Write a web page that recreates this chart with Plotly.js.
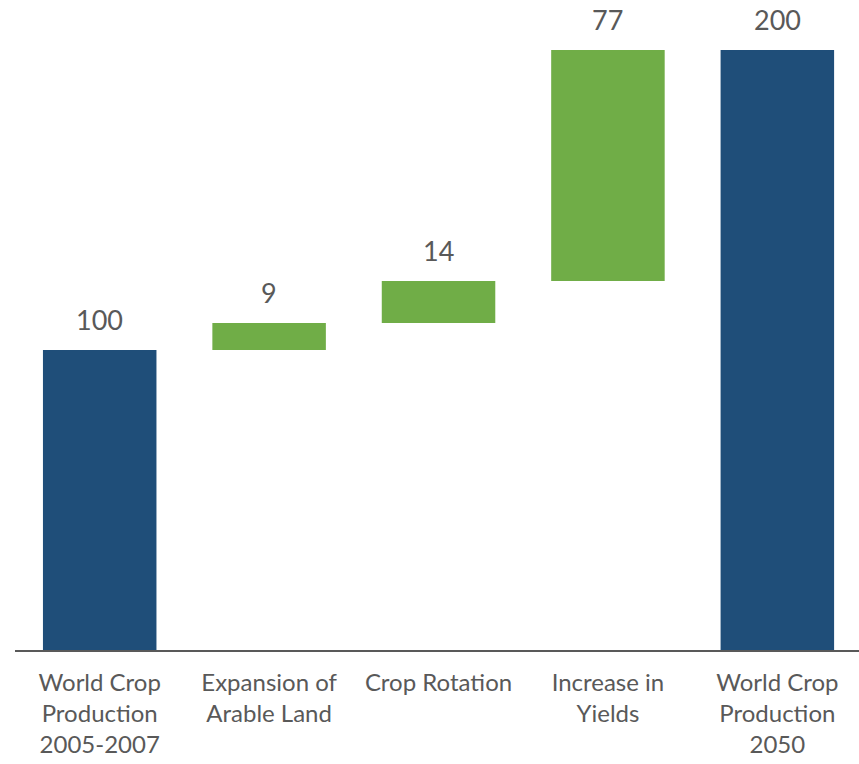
<!DOCTYPE html>
<html>
<head>
<meta charset="utf-8">
<script src="https://cdn.plot.ly/plotly-3.0.1.min.js"></script>
<style>html,body{margin:0;padding:0;background:#fff;}#chart{width:859px;height:764px;}</style>
</head>
<body>
<div id="chart"></div>
<script>
const categories = ["World Crop<br>Production<br>2005-2007", "Expansion of<br>Arable Land", "Crop Rotation", "Increase in<br>Yields", "World Crop<br>Production<br>2050"];
const values = [100, 9, 14, 77, 0];
const measures = ["absolute", "relative", "relative", "relative", "total"];
const labels = ["100", "9", "14", "77", "200"];

const FONT = "Lato, 'Noto Sans', sans-serif";

const trace = {
  type: "waterfall",
  x: categories,
  y: values,
  measure: measures,
  cliponaxis: false,
  connector: {visible: false},
  increasing: {marker: {color: "#70AD47"}},
  decreasing: {marker: {color: "#C00000"}},
  totals: {marker: {color: "#1F4E79"}},
  hoverinfo: "skip"
};

// bar tops computed from the data for label placement
let running = 0;
const tops = measures.map((m, i) => {
  if (m === "absolute") running = values[i];
  else if (m === "relative") running += values[i];
  return running;
});

const annotations = categories.map((c, i) => ({
  x: c, y: tops[i], xref: "x", yref: "y",
  text: labels[i], showarrow: false,
  yanchor: "bottom", yshift: 12,
  font: {family: FONT, size: 27, color: "#595959"}
}));

const layout = {
  width: 859, height: 764,
  margin: {l: 15, r: 0, t: 50, b: 114},
  paper_bgcolor: "#fff", plot_bgcolor: "#fff",
  showlegend: false,
  waterfallgap: 0.33,
  font: {family: FONT, color: "#595959"},
  annotations: annotations,
  xaxis: {
    range: [-0.5, 4.482],
    showline: true, linecolor: "#595959", linewidth: 2,
    showgrid: false, zeroline: false, ticks: "",
    tickfont: {size: 24, color: "#595959"},
    ticklabelstandoff: 10
  },
  yaxis: {
    range: [0, 200], visible: false, showgrid: false, zeroline: false
  }
};

Plotly.newPlot("chart", [trace], layout, {displayModeBar: false, staticPlot: true});
</script>
</body>
</html>
